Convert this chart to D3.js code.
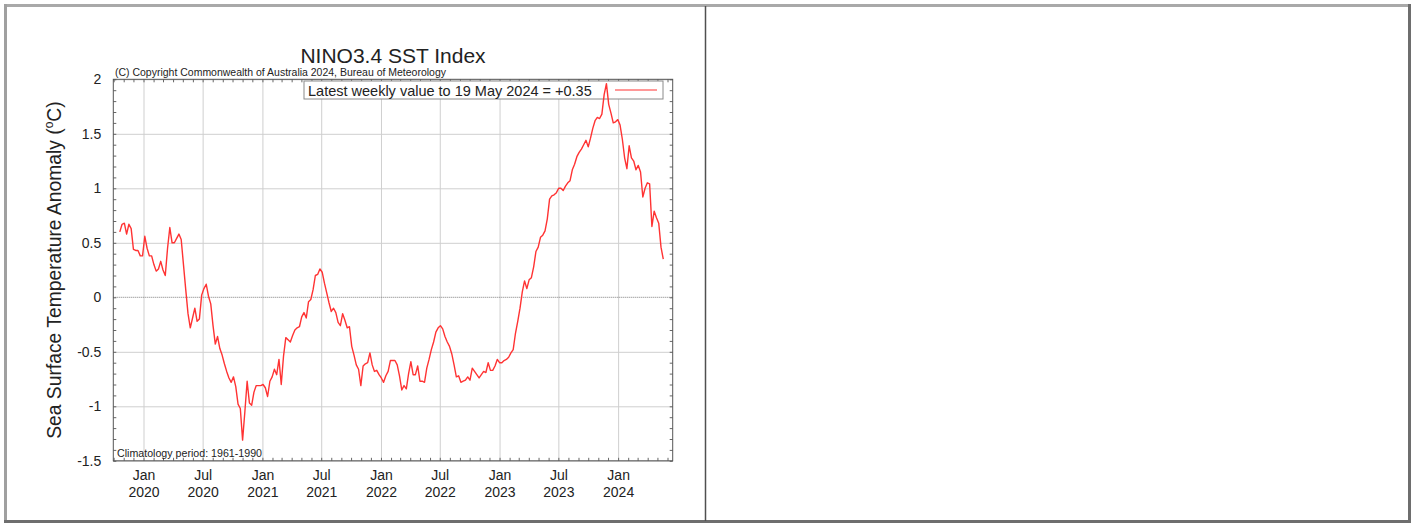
<!DOCTYPE html>
<html>
<head>
<meta charset="utf-8">
<script src="https://cdn.jsdelivr.net/npm/d3@7"></script>
<style>
body { margin: 0; background: #fff; }
text { font-family: "Liberation Sans", Arial, sans-serif; fill: #222; }
</style>
</head>
<body>
<div id="chart-area"></div>
<script>
// weekly NINO3.4 anomaly, one value per week starting this Sunday
var firstWeek = "2019-10-20";
var weeklyAnomaly = [
    0.60, 0.67, 0.68, 0.58, 0.67, 0.63, 0.44, 0.43, 0.43, 0.38,
    0.38, 0.56, 0.45, 0.38, 0.38, 0.30, 0.24, 0.26, 0.33, 0.25,
    0.20, 0.45, 0.64, 0.50, 0.50, 0.54, 0.58, 0.53, 0.30, 0.07,
    -0.15, -0.28, -0.19, -0.10, -0.22, -0.20, 0.02, 0.08, 0.12, 0.01,
    -0.06, -0.26, -0.43, -0.36, -0.47, -0.53, -0.61, -0.68, -0.74, -0.78,
    -0.73, -0.82, -0.98, -1.02, -1.31, -1.05, -0.77, -0.97, -0.99, -0.87,
    -0.81, -0.81, -0.81, -0.80, -0.83, -0.91, -0.77, -0.73, -0.66, -0.71,
    -0.57, -0.80, -0.54, -0.37, -0.39, -0.41, -0.35, -0.30, -0.28, -0.27,
    -0.18, -0.14, -0.19, -0.04, -0.02, 0.07, 0.20, 0.21, 0.26, 0.23,
    0.13, 0.04, -0.05, -0.13, -0.10, -0.14, -0.23, -0.26, -0.15, -0.21,
    -0.28, -0.27, -0.45, -0.53, -0.62, -0.66, -0.81, -0.63, -0.61, -0.60,
    -0.51, -0.62, -0.68, -0.67, -0.71, -0.74, -0.78, -0.72, -0.68, -0.58,
    -0.58, -0.58, -0.62, -0.72, -0.85, -0.81, -0.84, -0.70, -0.59, -0.71,
    -0.71, -0.63, -0.77, -0.77, -0.78, -0.65, -0.57, -0.48, -0.41, -0.32,
    -0.28, -0.26, -0.29, -0.36, -0.41, -0.45, -0.52, -0.62, -0.73, -0.72,
    -0.78, -0.77, -0.76, -0.73, -0.76, -0.65, -0.68, -0.71, -0.74, -0.71,
    -0.68, -0.69, -0.60, -0.67, -0.67, -0.63, -0.57, -0.60, -0.60, -0.58,
    -0.57, -0.55, -0.51, -0.48, -0.33, -0.22, -0.10, 0.05, 0.15, 0.08,
    0.16, 0.18, 0.28, 0.42, 0.46, 0.55, 0.57, 0.61, 0.72, 0.90,
    0.93, 0.94, 0.96, 1.00, 1.00, 0.98, 1.02, 1.05, 1.07, 1.17,
    1.22, 1.29, 1.33, 1.36, 1.40, 1.44, 1.38, 1.46, 1.55, 1.62,
    1.65, 1.64, 1.68, 1.86, 1.96, 1.77, 1.69, 1.60, 1.61, 1.63,
    1.58, 1.45, 1.28, 1.18, 1.39, 1.28, 1.25, 1.17, 1.21, 1.15,
    0.92, 1.00, 1.05, 1.04, 0.65, 0.79, 0.73, 0.68, 0.46, 0.35
];

var xDomain = ["2019-09-30", "2024-06-17"];
var xTickDates = ["2020-01-01", "2020-07-01", "2021-01-01", "2021-07-01", "2022-01-01",
                  "2022-07-01", "2023-01-01", "2023-07-01", "2024-01-01"];
var yDomain = [-1.5, 2];
var yTicks = [2, 1.5, 1, 0.5, 0, -0.5, -1, -1.5];

var titleText = "NINO3.4 SST Index";
var copyrightText = "(C) Copyright Commonwealth of Australia 2024, Bureau of Meteorology";
var legendText = "Latest weekly value to 19 May 2024 = +0.35";
var climText = "Climatology period: 1961-1990";

// plot box in page pixels
var plot = { left: 113.3, right: 672.7, top: 79.3, bottom: 460.8 };
var lineColor = "#ff3333";

var parse = d3.timeParse("%Y-%m-%d");
var start = parse(firstWeek);
var data = weeklyAnomaly.map(function (v, i) {
    return { date: d3.timeDay.offset(start, 7 * i), value: v };
});

var svg = d3.select("#chart-area")
    .append("svg")
    .attr("width", 1413)
    .attr("height", 524);

// page frame like a table with two cells
svg.append("line").attr("x1", 4).attr("x2", 1411).attr("y1", 5.5).attr("y2", 5.5)
    .attr("stroke", "#a9a9a9").attr("stroke-width", 3);
svg.append("line").attr("x1", 5.5).attr("x2", 5.5).attr("y1", 4).attr("y2", 523)
    .attr("stroke", "#a0a0a0").attr("stroke-width", 3);
svg.append("line").attr("x1", 4).attr("x2", 1411).attr("y1", 521.5).attr("y2", 521.5)
    .attr("stroke", "#6e6e6e").attr("stroke-width", 3);
svg.append("line").attr("x1", 1409.5).attr("x2", 1409.5).attr("y1", 4).attr("y2", 523)
    .attr("stroke", "#6e6e6e").attr("stroke-width", 3);
svg.append("line").attr("x1", 705.5).attr("x2", 705.5).attr("y1", 6).attr("y2", 521)
    .attr("stroke", "#505050").attr("stroke-width", 1.5);

var xScale = d3.scaleTime()
    .domain(xDomain.map(parse))
    .range([plot.left, plot.right]);

var yScale = d3.scaleLinear()
    .domain(yDomain)
    .range([plot.bottom, plot.top]);

var w = plot.right - plot.left;
var h = plot.bottom - plot.top;

// grid
svg.append("g")
    .attr("class", "grid-x")
    .attr("transform", "translate(0," + plot.bottom + ")")
    .call(d3.axisBottom(xScale).tickValues(xTickDates.map(parse)).tickSize(-h).tickFormat(""))
    .call(function (g) { g.select(".domain").remove(); })
    .selectAll("line").attr("stroke", "#cfcfcf");

svg.append("g")
    .attr("class", "grid-y")
    .attr("transform", "translate(" + plot.left + ",0)")
    .call(d3.axisLeft(yScale).tickValues(yTicks.filter(function (d) { return d !== 0; })).tickSize(-w).tickFormat(""))
    .call(function (g) { g.select(".domain").remove(); })
    .selectAll("line").attr("stroke", "#cfcfcf");

svg.append("line")
    .attr("x1", plot.left).attr("x2", plot.right)
    .attr("y1", yScale(0)).attr("y2", yScale(0))
    .attr("stroke", "#7a7a7a")
    .attr("stroke-dasharray", "1,1");

// minor ticks, inward on all four sides
var months = d3.timeMonth.range(xScale.domain()[0], xScale.domain()[1]);
var minorY = d3.range(-15, 21).map(function (d) { return d / 10; });

function tickStyle(g) {
    g.select(".domain").remove();
    g.selectAll("line").attr("stroke", "#666");
}
svg.append("g").attr("transform", "translate(0," + plot.bottom + ")")
    .call(d3.axisBottom(xScale).tickValues(months).tickSize(-3).tickFormat(""))
    .call(tickStyle);
svg.append("g").attr("transform", "translate(0," + plot.top + ")")
    .call(d3.axisTop(xScale).tickValues(months).tickSize(-3).tickFormat(""))
    .call(tickStyle);
svg.append("g").attr("transform", "translate(" + plot.left + ",0)")
    .call(d3.axisLeft(yScale).tickValues(minorY).tickSize(-3).tickFormat(""))
    .call(tickStyle);
svg.append("g").attr("transform", "translate(" + plot.right + ",0)")
    .call(d3.axisRight(yScale).tickValues(minorY).tickSize(-3).tickFormat(""))
    .call(tickStyle);

// frame
svg.append("rect")
    .attr("x", plot.left).attr("y", plot.top)
    .attr("width", w).attr("height", h)
    .attr("fill", "none")
    .attr("stroke", "#555")
    .attr("stroke-width", 1);

// y labels
svg.append("g")
    .attr("transform", "translate(" + (plot.left - 9) + ",0)")
    .call(d3.axisLeft(yScale).tickValues(yTicks).tickSize(0).tickFormat(function (d) { return String(d); }))
    .call(function (g) {
        g.select(".domain").remove();
        g.selectAll("text").attr("font-size", "14px").attr("fill", "#222")
            .attr("font-family", "Liberation Sans, Arial, sans-serif");
    });

// x labels in two lines
var fmtMon = d3.timeFormat("%b");
var fmtYear = d3.timeFormat("%Y");
svg.append("g")
    .attr("transform", "translate(0," + plot.bottom + ")")
    .call(d3.axisBottom(xScale).tickValues(xTickDates.map(parse)).tickSize(0).tickFormat(""))
    .call(function (g) {
        g.select(".domain").remove();
        g.selectAll(".tick text").remove();
        g.selectAll(".tick").append("text")
            .attr("text-anchor", "middle")
            .attr("font-size", "14px")
            .attr("fill", "#222")
            .each(function (d) {
                var t = d3.select(this);
                t.append("tspan").attr("x", 0).attr("y", 19.5).text(fmtMon(d));
                t.append("tspan").attr("x", 0).attr("y", 36).text(fmtYear(d));
            });
    });

// y axis title
svg.append("text")
    .attr("transform", "translate(61," + ((plot.top + plot.bottom) / 2) + ") rotate(-90)")
    .attr("text-anchor", "middle")
    .attr("font-size", "19.3px")
    .call(function (t) {
        t.append("tspan").text("Sea Surface Temperature Anomaly (");
        t.append("tspan").attr("font-size", "12px").attr("dy", -8).text("o");
        t.append("tspan").attr("dy", 8).text("C)");
    });

// title and notes
svg.append("text")
    .attr("x", 393).attr("y", 63)
    .attr("text-anchor", "middle")
    .attr("font-size", "21px")
    .text(titleText);

svg.append("text")
    .attr("x", 115).attr("y", 76)
    .attr("font-size", "10.5px")
    .attr("textLength", 331)
    .attr("lengthAdjust", "spacingAndGlyphs")
    .text(copyrightText);

svg.append("text")
    .attr("x", 117).attr("y", 457)
    .attr("font-size", "10px")
    .attr("textLength", 145)
    .attr("lengthAdjust", "spacingAndGlyphs")
    .text(climText);

// legend box
var legend = svg.append("g").attr("transform", "translate(304,81)");
legend.append("rect")
    .attr("width", 359).attr("height", 18)
    .attr("fill", "#fff")
    .attr("stroke", "#8a8a8a");
legend.append("text")
    .attr("x", 4).attr("y", 14.5)
    .attr("font-size", "14.5px")
    .text(legendText);
legend.append("line")
    .attr("x1", 311).attr("x2", 353)
    .attr("y1", 9).attr("y2", 9)
    .attr("stroke", lineColor).attr("stroke-width", 1.2);

// the series
var line = d3.line()
    .x(function (d) { return xScale(d.date); })
    .y(function (d) { return yScale(d.value); });

svg.append("path")
    .datum(data)
    .attr("d", line)
    .attr("fill", "none")
    .attr("stroke", lineColor)
    .attr("stroke-width", 1.4)
    .attr("stroke-linejoin", "round");
</script>
</body>
</html>
